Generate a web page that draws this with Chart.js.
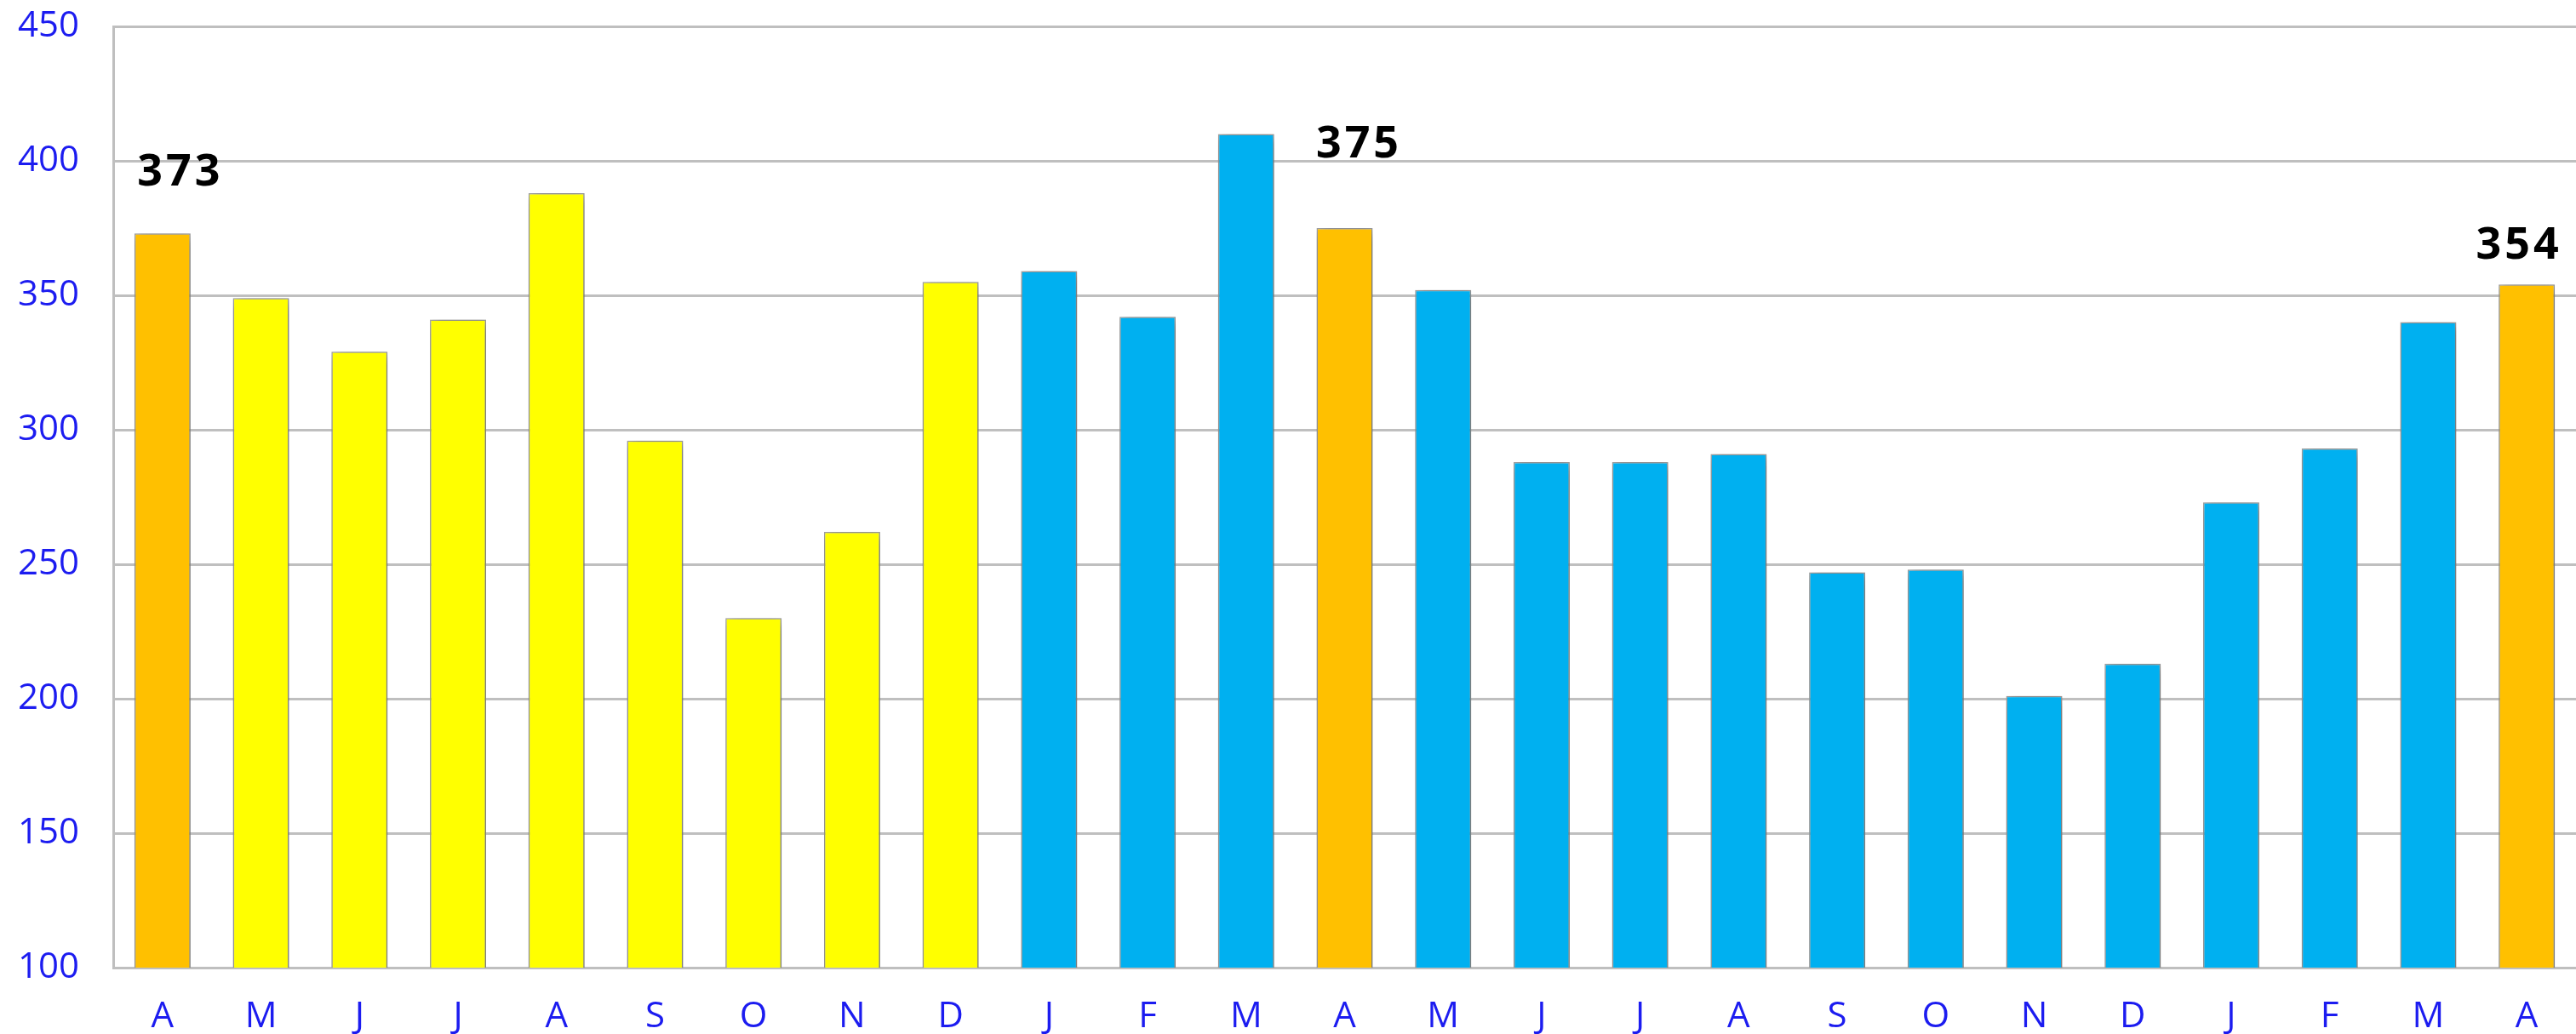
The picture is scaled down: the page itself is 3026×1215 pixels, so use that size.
<!DOCTYPE html>
<html>
<head>
<meta charset="utf-8">
<script src="https://cdn.jsdelivr.net/npm/chart.js@4"></script>
<style>
  html, body { margin: 0; padding: 0; background: #fff; }
  #wrap { width: 3026px; height: 1215px; }
</style>
</head>
<body>
<div id="wrap"><canvas id="chart" width="3026" height="1215"></canvas></div>
<script>
// month initials, April to April two years later
const months = ["A","M","J","J","A","S","O","N","D","J","F","M","A","M","J","J","A","S","O","N","D","J","F","M","A"];
const values = [373,349,329,341,388,296,230,262,355,359,342,410,375,352,288,288,291,247,248,201,213,273,293,340,354];
const yTicks = [100,150,200,250,300,350,400,450];
// bars that get the orange highlight and a value label
const highlighted = [0,12,24];
// last index of the first (yellow) period
const firstPeriodEnd = 8;

const ORANGE = "#FFC000", YELLOW = "#FFFF00", BLUE = "#00B0F0";
const barColors = values.map((v,i) => highlighted.includes(i) ? ORANGE : (i <= firstPeriodEnd ? YELLOW : BLUE));

// soft drop shadow under the bars
const shadowPlugin = {
  id: "shadow",
  beforeDatasetsDraw(chart){
    const c = chart.ctx;
    c.save();
    c.shadowColor = "rgba(0,0,0,0.4)";
    c.shadowBlur = 14;
    c.shadowOffsetX = 3;
    c.shadowOffsetY = 2;
  },
  afterDatasetsDraw(chart){ chart.ctx.restore(); }
};

// value labels above the highlighted bars
const labelPlugin = {
  id: "valueLabels",
  afterDatasetsDraw(chart, args, opts){
    const c = chart.ctx;
    const meta = chart.getDatasetMeta(0);
    c.save();
    c.font = "bold 52px 'Open Sans'";
    c.fillStyle = "#000";
    c.textAlign = "center";
    c.textBaseline = "middle";
    if ("letterSpacing" in c) c.letterSpacing = "4px";
    highlighted.forEach((idx, k) => {
      const bar = meta.data[idx];
      const off = opts.offsets[k];
      c.fillText(String(values[idx]), bar.x + off[0], bar.y + off[1]);
    });
    c.restore();
  }
};

new Chart(document.getElementById("chart").getContext("2d"), {
  type: "bar",
  data: {
    labels: months,
    datasets: [{
      data: values,
      backgroundColor: barColors,
      borderColor: "#A6A6A6",
      borderWidth: 1.5,
      categoryPercentage: 1,
      barPercentage: 0.57
    }]
  },
  plugins: [shadowPlugin, labelPlugin],
  options: {
    responsive: false,
    animation: false,
    layout: { padding: 0 },
    plugins: {
      legend: { display: false },
      tooltip: { enabled: false },
      valueLabels: { offsets: [[21,-71],[17,-98],[-9,-45]] }
    },
    scales: {
      x: {
        grid: { display: false, drawTicks: false },
        border: { display: true, color: "#BFBFBF", width: 3 },
        ticks: { color: "#1C1CF0", font: { family: "'Open Sans'", size: 42 }, padding: 33, maxRotation: 0, autoSkip: false },
        afterFit(scale){ scale.height = 78; }
      },
      y: {
        min: yTicks[0],
        max: yTicks[yTicks.length-1],
        afterBuildTicks(scale){ scale.ticks = yTicks.map(v => ({ value: v })); },
        grid: { color: "#BFBFBF", lineWidth: 3, drawTicks: false },
        border: { display: true, color: "#BFBFBF", width: 3 },
        ticks: { color: "#1C1CF0", font: { family: "'Open Sans'", size: 42 }, padding: 40 },
        afterFit(scale){
          scale.width = 133;
          scale.paddingTop = 31;
          scale.paddingBottom = 0;
        }
      }
    }
  }
});
</script>
</body>
</html>
